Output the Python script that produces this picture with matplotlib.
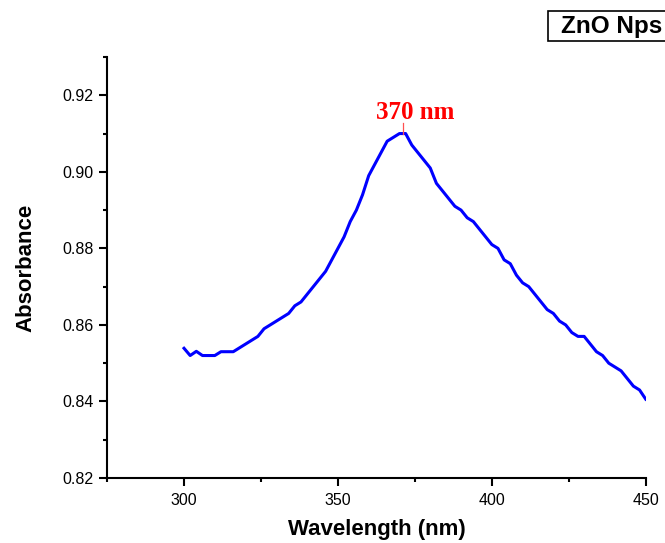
import matplotlib.pyplot as plt
from matplotlib.patches import Rectangle
from matplotlib.ticker import MultipleLocator

plt.rcParams['font.family'] = ['Liberation Sans', 'DejaVu Sans']

# UV-Vis absorbance spectrum of ZnO nanoparticles
wavelength = [300, 302, 304, 306, 308, 310, 312, 314, 316, 318, 320, 322, 324, 326,
              328, 330, 332, 334, 336, 338, 340, 342, 344, 346, 348, 350, 352, 354,
              356, 358, 360, 362, 364, 366, 368, 370, 372, 374, 376, 378, 380, 382,
              384, 386, 388, 390, 392, 394, 396, 398, 400, 402, 404, 406, 408, 410,
              412, 414, 416, 418, 420, 422, 424, 426, 428, 430, 432, 434, 436, 438,
              440, 442, 444, 446, 448, 450]
absorbance = [0.8539, 0.8520, 0.8531, 0.8520, 0.8520, 0.8520, 0.8530, 0.8530, 0.8530,
              0.8540, 0.8550, 0.8560, 0.8570, 0.8590, 0.8600, 0.8610, 0.8620, 0.8630,
              0.8650, 0.8660, 0.8680, 0.8700, 0.8720, 0.8740, 0.8770, 0.8800, 0.8830,
              0.8870, 0.8900, 0.8940, 0.8990, 0.9020, 0.9050, 0.9080, 0.9090, 0.9100,
              0.9100, 0.9070, 0.9050, 0.9030, 0.9010, 0.8970, 0.8950, 0.8930, 0.8910,
              0.8900, 0.8880, 0.8870, 0.8850, 0.8830, 0.8810, 0.8800, 0.8770, 0.8760,
              0.8730, 0.8710, 0.8700, 0.8680, 0.8660, 0.8640, 0.8630, 0.8610, 0.8600,
              0.8580, 0.8570, 0.8570, 0.8550, 0.8530, 0.8520, 0.8500, 0.8490, 0.8480,
              0.8460, 0.8440, 0.8430, 0.8406]
peak_wl = 371
peak_abs = 0.910

fig = plt.figure(figsize=(6.65, 5.43), dpi=100)
ax = fig.add_axes([0.161, 0.1197, 0.81, 0.7753])

ax.plot(wavelength, absorbance, color='#0000ff', linewidth=2.2)

# peak marker
ax.plot([peak_wl, peak_wl], [peak_abs, peak_abs + 0.0028], color='#ff5050', lw=0.9)
ax.text(375.2, 0.9156, '370 nm', ha='center', va='center', color='red',
        fontsize=18, fontweight='bold', family='Liberation Serif')

ax.set_xlim(275, 450)
ax.set_ylim(0.82, 0.93)
ax.xaxis.set_minor_locator(MultipleLocator(25))
ax.yaxis.set_minor_locator(MultipleLocator(0.01))
ax.set_yticks([0.82, 0.84, 0.86, 0.88, 0.90, 0.92])
ax.set_xticks([300, 350, 400, 450])

for s in ['top', 'right']:
    ax.spines[s].set_visible(False)
for s in ['left', 'bottom']:
    ax.spines[s].set_linewidth(1.5)
ax.tick_params(which='major', direction='out', length=6, width=1.5, labelsize=11.5)
ax.tick_params(axis='x', which='major', pad=5)
ax.tick_params(which='minor', direction='out', length=3, width=1.5)

ax.set_xlabel('Wavelength (nm)', fontsize=16, fontweight='bold', labelpad=8)
ax.set_ylabel('Absorbance', fontsize=16, fontweight='bold', labelpad=19)

# legend box, runs off the right edge
fig.add_artist(Rectangle((0.824, 0.9245), 0.2, 0.0552, transform=fig.transFigure,
                         facecolor='white', edgecolor='black', lw=1.2))
fig.text(0.8436, 0.952, 'ZnO Nps', fontsize=17.5, fontweight='bold', va='center', ha='left')

fig.savefig('out.png', dpi=100)
